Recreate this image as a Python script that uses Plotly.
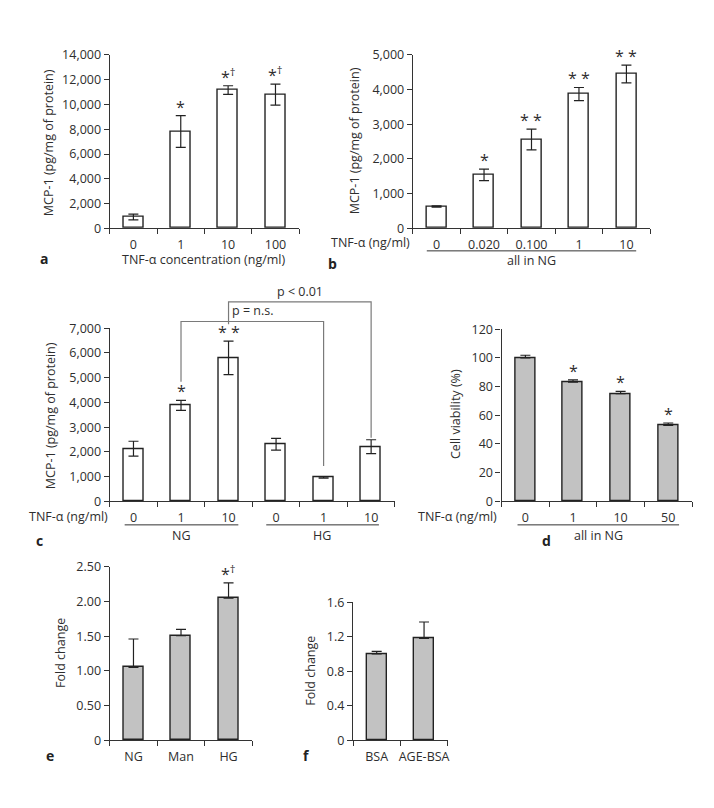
import plotly.graph_objects as go

# the page body keeps an 8 px margin, so the figure is sized to fit the 714x808 window
OFF = 8
W, H = 714 - 2 * OFF, 808 - 2 * OFF
FONT = "Open Sans"
FS = 12.5
TXT = "#2e2e2e"
AX = "#333333"

# ---------------- data ----------------
a_cats = ["0", "1", "10", "100"]
a_vals = [920, 7820, 11160, 10790]
a_errs = [230, 1280, 350, 850]
a_marks = ["", "*", "*†", "*†"]
a_ytick = [0, 2000, 4000, 6000, 8000, 10000, 12000, 14000]
a_ytxt = ["0", "2,000", "4,000", "6,000", "8,000", "10,000", "12,000", "14,000"]

b_cats = ["0", "0.020", "0.100", "1", "10"]
b_vals = [630, 1540, 2560, 3870, 4450]
b_errs = [20, 165, 300, 190, 255]
b_marks = ["", "*", "**", "**", "**"]
b_ytick = [0, 1000, 2000, 3000, 4000, 5000]
b_ytxt = ["0", "1,000", "2,000", "3,000", "4,000", "5,000"]

c_cats = ["0", "1", "10", "0", "1", "10"]
c_vals = [2130, 3880, 5800, 2310, 970, 2210]
c_errs = [300, 200, 680, 240, 30, 280]
c_marks = ["", "*", "**", "", "", ""]
c_ytick = [0, 1000, 2000, 3000, 4000, 5000, 6000, 7000]
c_ytxt = ["0", "1,000", "2,000", "3,000", "4,000", "5,000", "6,000", "7,000"]
ns_x = [1, 1, 4, 4]
ns_y = [4830, 7270, 7270, 1430]
p_x = [2, 2, 5, 5]
p_y = [7160, 8060, 8060, 2570]

d_cats = ["0", "1", "10", "50"]
d_vals = [100, 83, 75, 53]
d_errs = [1.8, 1.7, 1.6, 1.6]
d_marks = ["", "*", "*", "*"]
d_ytick = [0, 20, 40, 60, 80, 100, 120]
d_ytxt = ["0", "20", "40", "60", "80", "100", "120"]

e_cats = ["NG", "Man", "HG"]
e_vals = [1.05, 1.51, 2.05]
e_errs = [0.41, 0.09, 0.22]
e_marks = ["", "", "*†"]
e_ytick = [0, 0.5, 1.0, 1.5, 2.0, 2.5]
e_ytxt = ["0", "0.50", "1.00", "1.50", "2.00", "2.50"]

f_cats = ["BSA", "AGE-BSA"]
f_vals = [1.00, 1.18]
f_errs = [0.03, 0.19]
f_marks = ["", ""]
f_ytick = [0, 0.4, 0.8, 1.2, 1.6]
f_ytxt = ["0", "0.4", "0.8", "1.2", "1.6"]

WHITE = "#ffffff"
GRAY = "#c2c2c2"

# panel geometry in window pixels: x-left, x-right, y of zero, y of top
panels = [
    dict(c=a_cats, v=a_vals, e=a_errs, m=a_marks, yt=a_ytick, ytt=a_ytxt, fill=WHITE, one=False,
         px=(110, 300), py=(224, 46.7)),
    dict(c=b_cats, v=b_vals, e=b_errs, m=b_marks, yt=b_ytick, ytt=b_ytxt, fill=WHITE, one=False,
         px=(414, 652), py=(224, 46.7)),
    dict(c=c_cats, v=c_vals, e=c_errs, m=c_marks, yt=c_ytick, ytt=c_ytxt, fill=WHITE, one=False,
         px=(110, 396), py=(503, 326)),
    dict(c=d_cats, v=d_vals, e=d_errs, m=d_marks, yt=d_ytick, ytt=d_ytxt, fill=GRAY, one=True,
         px=(503, 694), py=(503, 327)),
    dict(c=e_cats, v=e_vals, e=e_errs, m=e_marks, yt=e_ytick, ytt=e_ytxt, fill=GRAY, one=True,
         px=(110, 253), py=(747, 570)),
    dict(c=f_cats, v=f_vals, e=f_errs, m=f_marks, yt=f_ytick, ytt=f_ytxt, fill=GRAY, one=True,
         px=(354, 449), py=(747, 606)),
]


def fx(p):
    return (p - OFF) / W


def fy(p):
    return 1 - (p - OFF) / H


fig = go.Figure()
layout = {}
annotations = []
shapes = []


def fmt_mark(m):
    if m == "**":
        return "* *"
    if m == "*†":
        return "*<sup>†</sup>"
    return m


for i, p in enumerate(panels):
    n = i + 1
    xs = "x" if n == 1 else f"x{n}"
    ys = "y" if n == 1 else f"y{n}"
    nc = len(p["c"])
    xpos = list(range(nc))
    if p["one"]:
        err = dict(type="data", symmetric=False, array=p["e"], arrayminus=[0] * nc,
                   color="#222222", thickness=1.2, width=5)
    else:
        err = dict(type="data", array=p["e"], color="#222222", thickness=1.2, width=5)
    fig.add_trace(go.Bar(
        x=xpos, y=p["v"], width=0.42, xaxis=xs, yaxis=ys,
        marker=dict(color=p["fill"], line=dict(color="#222222", width=1.4)),
        error_y=err, showlegend=False, hoverinfo="skip"))
    ymax = p["yt"][-1]
    layout["xaxis" if n == 1 else f"xaxis{n}"] = dict(
        domain=[fx(p["px"][0]), fx(p["px"][1])], anchor=ys,
        range=[-0.5, nc - 0.5], tickmode="array", tickvals=xpos, ticktext=p["c"],
        ticks="outside", ticklen=5, tickcolor="rgba(0,0,0,0)",
        minor=dict(tickmode="array", tickvals=[k - 0.5 for k in range(nc + 1)],
                   ticks="outside", ticklen=5, tickcolor=AX, tickwidth=1.2, showgrid=False),
        showline=True, linecolor=AX, linewidth=1.2, showgrid=False, zeroline=False,
        tickfont=dict(family=FONT, size=FS, color=TXT), fixedrange=True)
    layout["yaxis" if n == 1 else f"yaxis{n}"] = dict(
        domain=[fy(p["py"][0]), fy(p["py"][1])], anchor=xs,
        range=[0, ymax], tickmode="array", tickvals=p["yt"], ticktext=p["ytt"],
        ticks="outside", ticklen=5, tickcolor=AX, tickwidth=1.2,
        showline=True, linecolor=AX, linewidth=1.2, showgrid=False, zeroline=False,
        tickfont=dict(family=FONT, size=FS, color=TXT), fixedrange=True)
    for k, m in enumerate(p["m"]):
        if m:
            annotations.append(dict(
                x=k, y=p["v"][k] + p["e"][k], xref=xs, yref=ys, text=fmt_mark(m),
                showarrow=False, yanchor="bottom", xanchor="center", yshift=-4,
                font=dict(family=FONT, size=16, color=TXT)))

# ---- brackets for panel c on an invisible overlay axis ----
c_top_val = 9000
yd0, yd1 = fy(503), fy(326)
layout["yaxis7"] = dict(domain=[yd0, yd0 + (yd1 - yd0) * c_top_val / 7000], range=[0, c_top_val],
                        visible=False, anchor="x3", fixedrange=True)
for bx, by in [(ns_x, ns_y), (p_x, p_y)]:
    fig.add_trace(go.Scatter(x=bx, y=by, mode="lines", xaxis="x3", yaxis="y7",
                             line=dict(color="#7a7a7a", width=1.2),
                             showlegend=False, hoverinfo="skip"))
annotations.append(dict(x=(ns_x[1] + ns_x[2]) / 2, y=ns_y[1], xref="x3", yref="y7",
                        text="p = n.s.", showarrow=False, yanchor="bottom", yshift=0,
                        font=dict(family=FONT, size=FS, color=TXT)))
annotations.append(dict(x=(p_x[1] + p_x[2]) / 2, y=p_y[1], xref="x3", yref="y7",
                        text="p < 0.01", showarrow=False, yanchor="bottom", yshift=0,
                        font=dict(family=FONT, size=FS, color=TXT)))


def ptext(text, x, y, size=FS, xanchor="center", angle=0, bold=False):
    annotations.append(dict(
        x=fx(x), y=fy(y), xref="paper", yref="paper", text=f"<b>{text}</b>" if bold else text,
        showarrow=False, xanchor=xanchor, yanchor="middle", textangle=angle,
        font=dict(family=FONT, size=size, color=TXT if not bold else "#222222")))


def pline(x0, x1, y):
    shapes.append(dict(type="line", xref="paper", yref="paper", x0=fx(x0), x1=fx(x1),
                       y0=fy(y), y1=fy(y), line=dict(color=AX, width=1)))


# axis titles
ptext("MCP-1 (pg/mg of protein)", 48, 136, angle=-90)
ptext("MCP-1 (pg/mg of protein)", 355, 135, angle=-90)
ptext("MCP-1 (pg/mg of protein)", 50, 415, angle=-90)
ptext("Cell viability (%)", 457, 414, angle=-90)
ptext("Fold change", 60, 658, angle=-90)
ptext("Fold change", 312, 676, angle=-90)

# sub labels
ptext("TNF-α concentration (ng/ml)", 205, 256)
ptext("TNF-α (ng/ml)", 413, 238, xanchor="right")
pline(428, 638, 247)
ptext("all in NG", 533, 257)
ptext("TNF-α (ng/ml)", 110, 518, xanchor="right")
pline(125, 239, 527)
ptext("NG", 182, 538)
pline(267, 380, 527)
ptext("HG", 323, 538)
ptext("TNF-α (ng/ml)", 500, 518, xanchor="right")
pline(519, 681, 527)
ptext("all in NG", 600, 538)

# panel letters
ptext("a", 44, 255, size=14, bold=True)
ptext("b", 333, 260, size=14, bold=True)
ptext("c", 40, 543, size=14, bold=True)
ptext("d", 548, 543, size=14, bold=True)
ptext("e", 50, 763, size=14, bold=True)
ptext("f", 307, 763, size=14, bold=True)

fig.update_layout(
    width=W, height=H, margin=dict(l=0, r=0, t=0, b=0),
    paper_bgcolor="white", plot_bgcolor="rgba(0,0,0,0)",
    font=dict(family=FONT, size=FS, color=TXT),
    annotations=annotations, shapes=shapes, showlegend=False, bargap=0,
    **layout)

fig.write_html("out.html", config={"displayModeBar": False})
